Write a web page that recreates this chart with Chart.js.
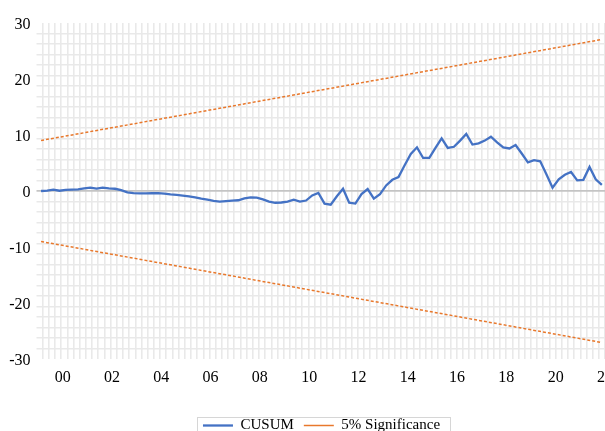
<!DOCTYPE html>
<html><head><meta charset="utf-8">
<script src="https://cdn.jsdelivr.net/npm/chart.js@4.4.1/dist/chart.umd.min.js"></script>
<style>
html,body{margin:0;padding:0;background:#fff;overflow:hidden;width:605px;height:431px;}
#wrap{position:relative;width:643px;height:445px;}
canvas{display:block;}
</style></head><body>
<div id="wrap"><canvas id="c" width="643" height="445"></canvas></div>
<script>
// ---- data ----
const firstYear = 1999, lastYear = 2021;
const quarterLabels = [];
for (let y = firstYear; y <= lastYear; y++) for (let q = 1; q <= 4; q++) quarterLabels.push(y + 'Q' + q);

const cusum = [
  0.0, 0.05, 0.25, 0.05, 0.2, 0.25, 0.3, 0.45, 0.6, 0.42, 0.6, 0.48, 0.4,
  0.15, -0.25, -0.38, -0.42, -0.42, -0.4, -0.38, -0.45, -0.62, -0.7, -0.82, -0.95, -1.15,
  -1.38, -1.55, -1.75, -1.9, -1.8, -1.72, -1.65, -1.3, -1.15, -1.2, -1.5, -1.9, -2.1, -2.05, -1.9, -1.55, -1.9, -1.7,
  -0.8, -0.35, -2.25, -2.45, -0.95, 0.4, -2.1, -2.25, -0.55, 0.35, -1.35, -0.55, 1.0, 2.0, 2.5,
  4.6, 6.6, 7.8, 5.9, 5.9, 7.7, 9.4, 7.7, 7.9, 9.0, 10.2, 8.3, 8.5, 9.0, 9.7, 8.7, 7.8, 7.6, 8.2,
  6.7, 5.1, 5.5, 5.3, 3.0, 0.6, 2.1, 2.9, 3.4, 1.9, 2.0, 4.3, 2.1, 1.1
];
const boundPeriods = ['1999Q1', '2021Q4'];
const upperBound = [9.02, 27.06];
const lowerBound = [-9.02, -27.06];

const yearTicks = [2000, 2002, 2004, 2006, 2008, 2010, 2012, 2014, 2016, 2018, 2020, 2022];
const yearTickLabels = ['00', '02', '04', '06', '08', '10', '12', '14', '16', '18', '20', '22'];
const yTicks = [-30, -20, -10, 0, 10, 20, 30];

// ---- helpers ----
function periodToX(p) { const y = +p.slice(0, 4), q = +p.slice(5); return y + (q - 0.5) / 4; }
const X_MIN = 1998.94, X_MAX = 2022.246;
const GRID_STEP_X = 0.2507, GRID_STEP_Y = 1.875;
const FONT = 'Liberation Serif';

const legendFrame = {
  id: 'legendFrame',
  afterDraw(chart) {
    const hb = chart.legend && chart.legend.legendHitBoxes;
    if (!hb || !hb.length) return;
    let l = Infinity, r = -Infinity, t = Infinity;
    hb.forEach(h => { l = Math.min(l, h.left); r = Math.max(r, h.left + h.width); t = Math.min(t, h.top); });
    const ctx = chart.ctx;
    ctx.save();
    ctx.strokeStyle = '#d6d6d6';
    ctx.lineWidth = 1;
    ctx.strokeRect(Math.round(l - 6) + 0.5, Math.round(t - 1) + 0.5, Math.round(r - l + 16), 40);
    ctx.restore();
  }
};

new Chart(document.getElementById('c'), {
  type: 'line',
  data: {
    datasets: [
      { label: 'CUSUM', data: quarterLabels.map((p, i) => ({ x: periodToX(p), y: cusum[i] })),
        borderColor: '#4472C4', backgroundColor: '#4472C4', borderWidth: 2.3, pointRadius: 0, tension: 0,
        xAxisID: 'x', yAxisID: 'y' },
      { label: '5% Significance', data: boundPeriods.map((p, i) => ({ x: periodToX(p), y: upperBound[i] })),
        borderColor: '#E8782C', backgroundColor: '#E8782C', borderWidth: 1.5, borderDash: [3, 2], pointRadius: 0,
        xAxisID: 'x', yAxisID: 'y' },
      { label: 'lower', data: boundPeriods.map((p, i) => ({ x: periodToX(p), y: lowerBound[i] })),
        borderColor: '#E8782C', backgroundColor: '#E8782C', borderWidth: 1.5, borderDash: [3, 2], pointRadius: 0,
        xAxisID: 'x', yAxisID: 'y' }
    ]
  },
  options: {
    responsive: false,
    animation: false,
    devicePixelRatio: 1,
    layout: { padding: { left: 0, right: 0, top: 23, bottom: 2 } },
    plugins: {
      tooltip: { enabled: false },
      legend: {
        position: 'bottom',
        labels: {
          filter: item => item.datasetIndex < 2,
          usePointStyle: true, pointStyle: 'line', pointStyleWidth: 30,
          padding: 10, color: '#000',
          font: { family: FONT, size: 15 }
        }
      }
    },
    scales: {
      x: {
        type: 'linear', position: 'bottom', min: X_MIN, max: X_MAX,
        afterBuildTicks: s => { s.ticks = yearTicks.map(v => ({ value: v })); },
        ticks: { autoSkip: false, maxRotation: 0, padding: 9, color: '#000', font: { family: FONT, size: 16 },
          callback: v => yearTickLabels[yearTicks.indexOf(v)] },
        grid: { display: false, drawTicks: false },
        border: { display: false },
        afterFit: s => { s.height = 49; }
      },
      xg: {
        type: 'linear', position: 'top', min: X_MIN, max: X_MAX,
        afterBuildTicks: s => { const t = []; for (let k = 1; X_MIN + k * GRID_STEP_X < X_MAX - 0.02; k++) t.push({ value: X_MIN + k * GRID_STEP_X }); s.ticks = t; },
        ticks: { display: false },
        grid: { color: '#e9e9e9', lineWidth: 1.6, drawTicks: false },
        border: { display: false },
        afterFit: s => { s.height = 0; }
      },
      y: {
        type: 'linear', position: 'left', min: -30, max: 30,
        afterBuildTicks: s => { s.ticks = yTicks.map(v => ({ value: v })); },
        ticks: { padding: 6, labelOffset: 1.5, color: '#000', font: { family: FONT, size: 16 } },
        grid: { display: false, drawTicks: false },
        border: { display: false },
        afterFit: s => { s.width = 36.5; }
      },
      yg: {
        type: 'linear', position: 'right', min: -30, max: 30,
        afterBuildTicks: s => { const t = []; for (let k = 1; k < 32; k++) t.push({ value: -30 + k * GRID_STEP_Y }); s.ticks = t; },
        ticks: { display: false },
        grid: {
          color: c => (Math.abs(c.tick.value) < 1e-6 ? '#c4c4c4' : '#e9e9e9'),
          lineWidth: c => (Math.abs(c.tick.value) < 1e-6 ? 1.8 : 1.6),
          drawTicks: false
        },
        border: { display: false },
        afterFit: s => { s.width = 32; }
      }
    }
  },
  plugins: [legendFrame]
});
</script>
</body></html>
